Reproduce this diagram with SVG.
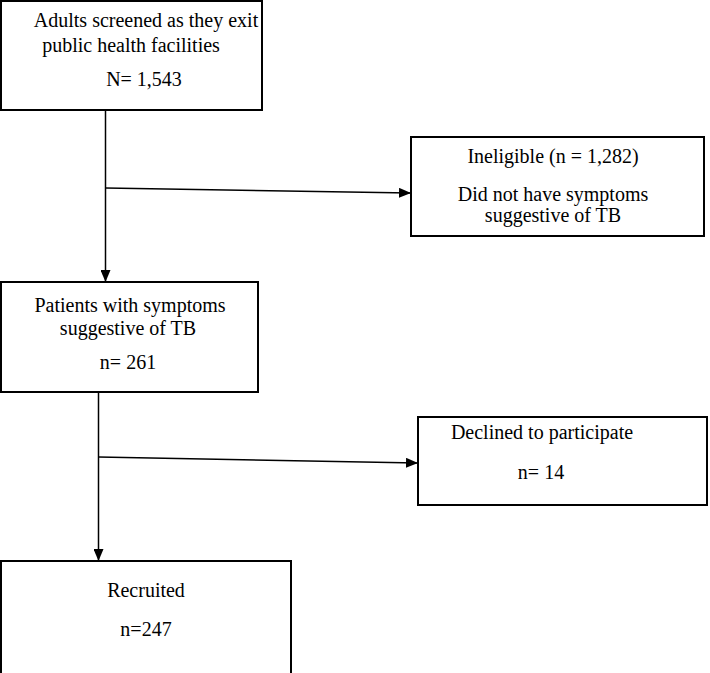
<svg xmlns="http://www.w3.org/2000/svg" width="710" height="673" viewBox="0 0 710 673">
<style>
.box{fill:#fff;stroke:#000;stroke-width:2}
.t{font-family:"Liberation Serif","Times New Roman",serif;font-size:20px;fill:#000;text-anchor:middle}
.c{stroke:#000;stroke-width:1.5;fill:none}
</style>
<defs>
<marker id="ah" markerWidth="12" markerHeight="10" refX="11" refY="5" orient="auto" markerUnits="userSpaceOnUse">
<path d="M0,0 L12,5 L0,10 Z" fill="#000"/>
</marker>
</defs>
<rect width="710" height="673" fill="#fff"/>
<g id="connectors">
<line class="c" x1="105.5" y1="110" x2="105.5" y2="281" marker-end="url(#ah)"/>
<line class="c" x1="105.5" y1="188" x2="410" y2="193" marker-end="url(#ah)"/>
<line class="c" x1="98.5" y1="392" x2="98.5" y2="560" marker-end="url(#ah)"/>
<line class="c" x1="98.5" y1="457" x2="417" y2="463" marker-end="url(#ah)"/>
</g>
<g id="screened">
<rect class="box" x="1" y="1" width="261" height="109"/>
<text class="t" x="146" y="27">Adults screened as they exit</text>
<text class="t" x="131" y="52">public health facilities</text>
<text class="t" x="144" y="86">N= 1,543</text>
</g>
<g id="ineligible">
<rect class="box" x="411" y="137" width="293" height="99"/>
<text class="t" x="553" y="163">Ineligible (n = 1,282)</text>
<text class="t" x="553" y="201">Did not have symptoms</text>
<text class="t" x="553" y="222">suggestive of TB</text>
</g>
<g id="symptoms">
<rect class="box" x="1" y="282" width="257" height="110"/>
<text class="t" x="130" y="312">Patients with symptoms</text>
<text class="t" x="128" y="335">suggestive of TB</text>
<text class="t" x="128" y="369">n= 261</text>
</g>
<g id="declined">
<rect class="box" x="418" y="417" width="289" height="88"/>
<text class="t" x="542" y="439">Declined to participate</text>
<text class="t" x="541" y="479">n= 14</text>
</g>
<g id="recruited">
<rect class="box" x="1" y="561" width="290" height="120"/>
<text class="t" x="146" y="597">Recruited</text>
<text class="t" x="146" y="636">n=247</text>
</g>
</svg>
